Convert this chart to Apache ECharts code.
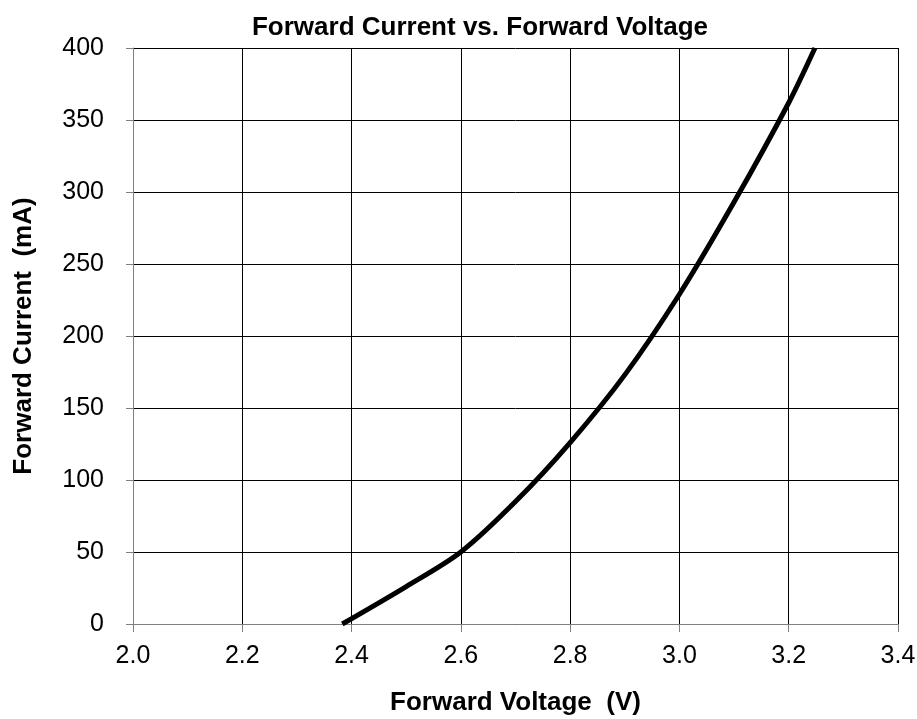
<!DOCTYPE html>
<html>
<head>
<meta charset="utf-8">
<script src="https://cdn.jsdelivr.net/npm/echarts@6/dist/echarts.min.js"></script>
<style>
  html, body { margin: 0; padding: 0; background: #fff; }
</style>
</head>
<body>
<div id="chart" style="width:917px;height:719px;"></div>
<script>
// forward voltage (V) and current (mA)
var voltage = [2.383, 2.5, 2.6, 2.7, 2.8, 2.9, 3.0, 3.1, 3.2, 3.248];
var current = [0, 26, 50, 85, 126, 173, 229, 293, 362, 400];

var points = voltage.map(function (v, i) { return [v, current[i]]; });

var chart = echarts.init(document.getElementById('chart'));
var font = 'Liberation Sans, Arial, sans-serif';

chart.setOption({
    animation: false,
    title: {
        text: 'Forward Current vs. Forward Voltage',
        left: 475,
        top: 10,
        textAlign: 'center',
        textStyle: { fontFamily: font, fontSize: 26, fontWeight: 'bold', color: '#000' }
    },
    grid: { left: 133, right: 19, top: 48, bottom: 95, outerBoundsMode: 'none', containLabel: false },
    xAxis: {
        type: 'value',
        min: 2.0,
        max: 3.4,
        interval: 0.2,
        name: 'Forward Voltage  (V)',
        nameLocation: 'middle',
        nameGap: 66,
        nameTextStyle: { fontFamily: font, fontSize: 26, fontWeight: 'bold', color: '#000' },
        axisLine: { show: true, lineStyle: { color: '#808080', width: 1 } },
        axisTick: { show: true, inside: false, length: 8, lineStyle: { color: '#808080', width: 1 } },
        axisLabel: {
            fontFamily: font, fontSize: 25, color: '#000', margin: 20,
            formatter: function (v) { return v.toFixed(1); }
        },
        splitLine: { show: true, lineStyle: { color: '#000', width: 1 } }
    },
    yAxis: {
        type: 'value',
        min: 0,
        max: 400,
        interval: 50,
        name: 'Forward Current  (mA)',
        nameLocation: 'middle',
        nameGap: 96,
        nameTextStyle: { fontFamily: font, fontSize: 26, fontWeight: 'bold', color: '#000' },
        axisLine: { show: true, lineStyle: { color: '#808080', width: 1 } },
        axisTick: { show: true, inside: false, length: 7, lineStyle: { color: '#808080', width: 1 } },
        axisLabel: { fontFamily: font, fontSize: 25, color: '#000', margin: 29 },
        splitLine: { show: true, lineStyle: { color: '#000', width: 1 } }
    },
    series: [{
        type: 'line',
        data: points,
        smooth: 0.3,
        showSymbol: false,
        clip: true,
        lineStyle: { color: '#000', width: 5 }
    }]
});
</script>
</body>
</html>
